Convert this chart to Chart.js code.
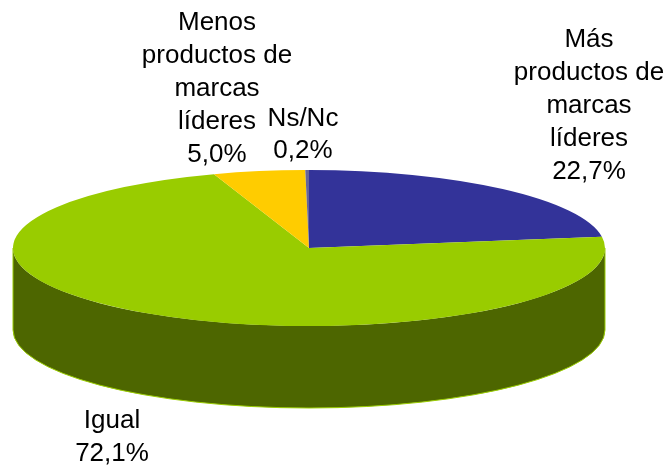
<!DOCTYPE html>
<html>
<head>
<meta charset="utf-8">
<style>
  html, body { margin: 0; padding: 0; background: #fff; }
  canvas { display: block; }
</style>
<script src="https://cdn.jsdelivr.net/npm/chart.js@4"></script>
</head>
<body>
<canvas id="myChart" width="668" height="466"></canvas>
<script>
const categories = ['Más productos de marcas líderes', 'Igual', 'Menos productos de marcas líderes', 'Ns/Nc']
const values = [22.7, 72.1, 5.0, 0.2]
const valueLabels = ['22,7%', '72,1%', '5,0%', '0,2%']
const topColors = ['#333399', '#99cc00', '#ffcc00', '#666699']
const sideColors = ['#1a1a4d', '#4d6600', '#806600', '#33334d']

// the pie is squashed to this ellipse, with a wall below it
const cx = 309, cy = 248, rx = 296, ry = 78, depth = 82

// where each label block goes: centre x, first baseline, and its wrapped lines
const labelBlocks = [
    { x: 589, y: 47, step: 33, lines: ['Más', 'productos de', 'marcas', 'líderes'], i: 0 },
    { x: 112, y: 428, step: 33, lines: ['Igual'], i: 1 },
    { x: 217, y: 30, step: 33, lines: ['Menos', 'productos de', 'marcas', 'líderes'], i: 2 },
    { x: 303, y: 126, step: 32, lines: ['Ns/Nc'], i: 3 },
]

const applyEllipse = (ctx, el) => {
    const sx = rx / el.outerRadius
    const sy = ry / el.outerRadius
    ctx.translate(cx, cy)
    ctx.scale(sx, sy)
    ctx.translate(-el.x, -el.y)
}

const squashPlugin = {
    id: 'squash',
    beforeDatasetsDraw(chart) {
        const ctx = chart.ctx
        const arcs = chart.getDatasetMeta(0).data

        // wall first, only the front half of the rim can be seen
        arcs.forEach((el, i) => {
            const start = Math.max(el.startAngle, 0)
            const end = Math.min(el.endAngle, Math.PI)
            if (end <= start) return
            const d = depth * el.outerRadius / ry

            ctx.save()
            ctx.save()
            applyEllipse(ctx, el)
            ctx.beginPath()
            ctx.arc(el.x, el.y, el.outerRadius, start, end)
            ctx.arc(el.x, el.y + d, el.outerRadius, end, start, true)
            ctx.closePath()
            ctx.restore()
            ctx.fillStyle = sideColors[i]
            ctx.fill()

            // thin light edge on the outside of the wall only
            ctx.save()
            applyEllipse(ctx, el)
            ctx.beginPath()
            ctx.moveTo(el.x + el.outerRadius * Math.cos(start), el.y + el.outerRadius * Math.sin(start))
            ctx.arc(el.x, el.y + d, el.outerRadius, start, end)
            ctx.lineTo(el.x + el.outerRadius * Math.cos(end), el.y + el.outerRadius * Math.sin(end))
            ctx.restore()
            ctx.strokeStyle = topColors[i]
            ctx.lineWidth = 1
            ctx.stroke()
            ctx.restore()
        })

        ctx.save()
        applyEllipse(ctx, arcs[0])
    },
    afterDatasetsDraw(chart) {
        chart.ctx.restore()
    },
    afterDraw(chart) {
        const ctx = chart.ctx
        ctx.save()
        ctx.font = '26px "Liberation Sans"'
        ctx.fillStyle = '#000'
        ctx.textAlign = 'center'
        ctx.textBaseline = 'alphabetic'
        labelBlocks.forEach((b) => {
            const lines = b.lines.concat(valueLabels[b.i])
            lines.forEach((line, n) => ctx.fillText(line, b.x, b.y + n * b.step))
        })
        ctx.restore()
    },
}

const data = {
    labels: categories,
    datasets: [{
        data: values,
        backgroundColor: topColors,
        borderWidth: 0,
        clip: false,
    }]
}

const config = {
    type: 'pie',
    data: data,
    options: {
        responsive: false,
        animation: false,
        plugins: {
            legend: { display: false },
            tooltip: { enabled: false },
        },
    },
    plugins: [squashPlugin],
}

const myChart = new Chart(document.getElementById('myChart'), config)
</script>
</body>
</html>
